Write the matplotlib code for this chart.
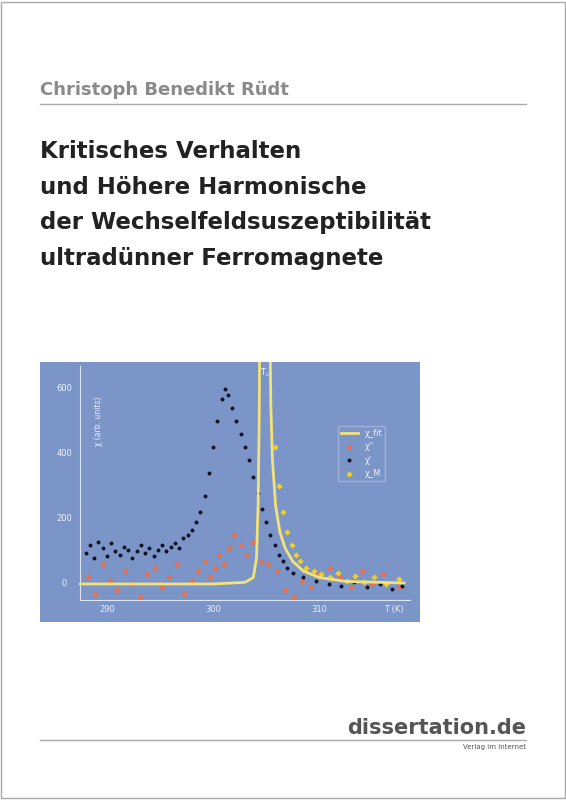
import matplotlib
matplotlib.use("Agg")
import matplotlib.pyplot as plt

# susceptibility data
black_T = [288.0,288.4,288.8,289.2,289.6,290.0,290.4,290.8,291.2,291.6,292.0,292.4,292.8,293.2,293.6,294.0,294.4,294.8,295.2,295.6,296.0,296.4,296.8,297.2,297.6,298.0,
           298.4,298.8,299.2,299.6,300.0,300.4,300.8,301.1,301.4,301.8,302.2,302.6,303.0,303.4,303.8,304.2,304.6,305.0,305.4,305.8,306.2,306.6,307.0,307.5,
           308.5,309.7,310.9,312.1,313.3,314.5,315.7,316.9,317.8]
black_v = [95,120,80,130,110,85,125,100,90,115,105,80,100,120,95,110,85,105,120,100,115,125,110,140,150,165,
           190,220,270,340,420,500,570,600,580,540,500,460,420,380,330,280,230,190,150,120,90,70,50,35,
           20,10,0,-5,5,-10,0,-15,-5]
red_T = [288.2,288.9,289.6,290.3,291.0,291.7,292.4,293.1,293.8,294.5,295.2,295.9,296.6,297.3,298.0,298.6,299.2,299.7,300.2,300.6,
         301.0,301.5,302.0,302.6,303.2,303.8,304.5,305.2,306.0,306.8,307.6,308.4,309.2,310.0,311.0,312.0,313.0,314.0,315.0,316.0,317.5]
red_v = [20,-30,60,10,-20,40,0,-40,30,50,-10,20,60,-30,10,40,70,20,50,90,
         60,110,150,120,90,130,70,60,40,-20,-40,10,-10,30,50,20,-10,40,0,30,-10]
yel_T = [305.8,306.2,306.6,307.0,307.4,307.8,308.2,308.8,309.5,310.2,311.0,311.8,312.6,313.4,314.2,315.2,316.3,317.5]
yel_v = [420,300,220,160,120,90,70,50,40,30,20,35,10,25,5,20,0,15]
fit_left_T = [287.5,300,303,303.8,304.1,304.25,304.35,304.4]
fit_left_v = [0,0,5,20,80,250,500,800]
fit_right_T = [305.35,305.45,305.6,305.9,306.3,306.8,307.5,308.5,310,312.5,318]
fit_right_v = [800,550,380,240,160,110,70,40,20,8,3]
x_ticks = [290, 300, 310]
y_ticks = [0, 200, 400, 600]

W, H = 566, 800
fig = plt.figure(figsize=(5.66, 8.0), dpi=100)
fig.patch.set_facecolor("white")

def fy(y):
    return 1 - y / H

# page frame
fig.add_artist(plt.Rectangle((0.002, 0.002), 0.996, 0.996, transform=fig.transFigure,
                             fill=False, edgecolor="#aaaaaa", lw=1))

fig.text(40 / W, fy(90), "Christoph Benedikt Rüdt", fontsize=13, fontweight="bold",
         color="#8a8a8a", va="center", family="DejaVu Sans")
fig.add_artist(plt.Line2D([40 / W, 526 / W], [fy(104), fy(104)], color="#aaaaaa", lw=1))
title = ["Kritisches Verhalten", "und Höhere Harmonische",
         "der Wechselfeldsuszeptibilität", "ultradünner Ferromagnete"]
for i, line in enumerate(title):
    fig.text(40 / W, fy(152 + 35.5 * i), line, fontsize=16.5, fontweight="bold",
             color="#222222", va="center", family="DejaVu Sans")

fig.text(526 / W, fy(728), "dissertation.de", fontsize=15, fontweight="bold",
         color="#555555", ha="right", va="center")
fig.text(526 / W, fy(747), "Verlag im Internet", fontsize=5, color="#555555",
         ha="right", va="center")
fig.add_artist(plt.Line2D([40 / W, 526 / W], [fy(740), fy(740)], color="#aaaaaa", lw=1))

# the chart
ax = fig.add_axes([40 / W, fy(622), 380 / W, 260 / H])
ax.set_facecolor("#7b95c9")
ax.set_xlim(283.7, 319.5)
ax.set_ylim(-117, 683)
for s in ax.spines.values():
    s.set_visible(False)
ax.set_xticks([])
ax.set_yticks([])

ax.plot([287.5, 287.5], [-50, 670], color="#dde4f2", lw=0.8)
ax.plot([287.5, 318.6], [-50, -50], color="#dde4f2", lw=0.8)
for t in x_ticks:
    ax.text(t, -80, str(t), color="#eef2fa", fontsize=6, ha="center", va="center")
for v in y_ticks:
    ax.text(286.0, v, str(v), color="#eef2fa", fontsize=6, ha="center", va="center")
ax.text(317.0, -80, "T (K)", color="#eef2fa", fontsize=6, ha="center", va="center")
ax.text(289.2, 500, "χ (arb. units)", color="#eef2fa", fontsize=5.5, rotation=90,
        ha="center", va="center")

ax.plot(fit_left_T, fit_left_v, color="#f3e27a", lw=2)
ax.plot(fit_right_T, fit_right_v, color="#f3e27a", lw=2, label="χ_fit")
ax.scatter(red_T, red_v, s=10, color="#e8704a", marker="D", lw=0, label="χ''")
ax.scatter(black_T, black_v, s=8, color="#111122", lw=0, label="χ'")
ax.scatter(yel_T, yel_v, s=10, color="#f2d020", marker="D", lw=0, label="χ_M")
ax.text(304.9, 640, "T$_c$", color="#eef2fa", fontsize=6, ha="center")

leg = ax.legend(loc="upper right", bbox_to_anchor=(0.92, 0.77), fontsize=6,
                frameon=True, facecolor="#7b95c9", edgecolor="#a9b9dc",
                labelcolor="#eef2fa")

fig.savefig("out.png", dpi=100)
